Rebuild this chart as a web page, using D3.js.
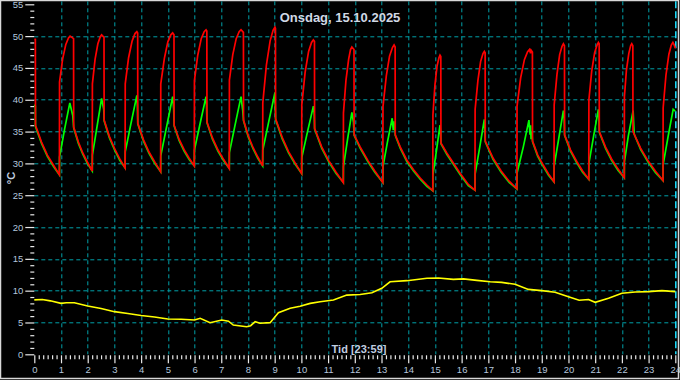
<!DOCTYPE html>
<html>
<head>
<meta charset="utf-8">
<script src="https://cdn.jsdelivr.net/npm/d3@7"></script>
<style>
  body { margin: 0; background: #000; }
  text { font-family: Arial, "Liberation Sans", sans-serif; }
</style>
</head>
<body>
<div class="chart"></div>
<script>
var svgWidth = 680;
var svgHeight = 380;

var margin = { top: 4, right: 5, bottom: 26, left: 34 };

var width = 641;
var height = 350;

// chart values
var titleText = "Onsdag, 15.10.2025";
var xLabel = "Tid [23:59]";
var yLabel = "°C";

var hourTicks = [0, 1, 2, 3, 4, 5, 6, 7, 8, 9, 10, 11, 12, 13, 14, 15, 16, 17, 18, 19, 20, 21, 22, 23, 24];
var tempTicks = [0, 5, 10, 15, 20, 25, 30, 35, 40, 45, 50, 55];

// red curve [hour, °C]
var redPts = [
  [0, 49.5], [0.04, 49.5], [0.045, 36.0], [0.27, 33.35], [0.49, 31.3], [0.72, 29.7],
  [0.94, 28.2], [0.945, 42.8], [1.06, 46.4], [1.18, 48.7], [1.28, 49.7], [1.34, 50.0], [1.47, 49.6], [1.475, 35.7], [1.65, 33.35], [1.82, 31.6], [2.0, 30.1],
  [2.17, 28.8], [2.175, 42.5], [2.275, 46.35], [2.38, 48.8], [2.47, 49.9], [2.52, 50.2], [2.61, 49.8], [2.615, 36.8], [2.81, 34.25], [3.01, 32.3], [3.2, 30.7],
  [3.4, 29.3], [3.405, 42.5], [3.53, 46.6], [3.66, 49.2], [3.77, 50.4], [3.84, 50.7], [3.87, 50.5], [3.875, 36.3], [4.09, 33.7], [4.3, 31.75], [4.52, 30.15],
  [4.73, 28.7], [4.735, 42.5], [4.87, 46.5], [5.0, 49.1], [5.11, 50.2], [5.18, 50.5], [5.23, 50.2], [5.235, 36.0], [5.42, 33.8], [5.61, 32.15], [5.8, 30.8],
  [5.99, 29.6], [5.995, 43.0], [6.12, 47.0], [6.25, 49.6], [6.36, 50.7], [6.43, 51.0], [6.46, 50.8], [6.465, 36.5], [6.67, 34.0], [6.88, 32.1], [7.09, 30.6],
  [7.3, 29.2], [7.305, 43.1], [7.43, 47.05], [7.56, 49.6], [7.67, 50.7], [7.74, 51.0], [7.83, 50.6], [7.835, 36.8], [8.01, 34.35], [8.19, 32.5], [8.37, 31.0],
  [8.55, 29.6], [8.555, 39.5], [8.69, 45.45], [8.83, 49.25], [8.94, 50.9], [9.01, 51.4], [9.03, 51.2], [9.035, 37.0], [9.28, 34.1], [9.52, 31.85], [9.77, 30.05],
  [10.01, 28.4], [10.015, 39.2], [10.14, 44.3], [10.27, 47.6], [10.38, 49.0], [10.45, 49.4], [10.49, 49.2], [10.495, 35.5], [10.76, 32.6], [11.03, 30.4], [11.3, 28.6],
  [11.57, 27.0], [11.575, 37.9], [11.67, 43.1], [11.77, 46.4], [11.84, 47.9], [11.89, 48.3], [11.97, 47.9], [11.975, 34.5], [12.2, 32.6], [12.5, 30.4], [12.75, 28.8],
  [13.05, 27.0], [13.055, 38.9], [13.18, 43.75], [13.3, 46.85], [13.41, 48.2], [13.47, 48.6], [13.51, 48.3], [13.515, 34.5], [13.7, 32.6], [13.95, 30.5], [14.2, 29.0], [14.45, 27.7], [14.7, 26.6],
  [14.92, 25.7], [14.925, 37.6], [15.0, 42.3], [15.08, 45.3], [15.15, 46.6], [15.19, 47.0], [15.22, 46.8], [15.225, 33.2], [15.45, 31.6], [15.95, 28.4], [16.25, 26.7],
  [16.5, 25.8], [16.505, 38.5], [16.61, 43.05], [16.71, 46.0], [16.8, 47.25], [16.85, 47.6], [16.88, 47.4], [16.885, 33.5], [17.18, 30.8], [17.48, 28.8], [17.78, 27.2],
  [18.07, 26.0], [18.075, 39.0], [18.21, 43.45], [18.35, 46.3], [18.47, 47.55], [18.54, 47.9], [18.58, 47.3], [18.6, 47.8], [18.65, 47.5], [18.655, 33.5], [18.85, 31.3], [19.06, 29.7], [19.26, 28.3],
  [19.46, 27.1], [19.465, 39.2], [19.57, 44.0], [19.67, 47.1], [19.76, 48.4], [19.81, 48.8], [19.85, 48.5], [19.855, 34.5], [20.08, 32.1], [20.31, 30.3], [20.53, 28.8],
  [20.76, 27.5], [20.765, 40.0], [20.87, 44.5], [20.98, 47.4], [21.07, 48.6], [21.12, 49.0], [21.15, 48.8], [21.155, 35.0], [21.39, 32.55], [21.62, 30.65], [21.86, 29.1],
  [22.09, 27.75], [22.095, 40.5], [22.17, 44.65], [22.26, 47.3], [22.33, 48.5], [22.37, 48.8], [22.41, 48.5], [22.415, 35.0], [22.7, 32.4], [22.98, 30.4], [23.26, 28.75],
  [23.54, 27.3], [23.545, 38.7], [23.65, 43.85], [23.76, 47.15], [23.85, 48.6], [23.91, 49.0], [23.95, 48.7], [24.0, 48.1]
];

// green curve [hour, °C]
var greenPts = [
  [0, 39.2], [0.04, 39.0], [0.045, 35.8], [0.27, 33.15], [0.49, 31.1], [0.72, 29.5],
  [0.94, 28.2], [0.945, 31.0], [1.14, 35.5], [1.33, 39.5], [1.44, 37.5], [1.475, 35.6], [1.65, 33.15], [1.82, 31.4], [2.0, 29.9],
  [2.17, 28.8], [2.175, 31.3], [2.35, 35.8], [2.52, 40.2], [2.6, 38.5], [2.615, 36.7], [2.81, 34.05], [3.01, 32.1], [3.2, 30.5],
  [3.4, 29.3], [3.405, 31.8], [3.62, 36.3], [3.84, 40.7], [3.86, 39.0], [3.875, 36.2], [4.09, 33.5], [4.3, 31.55], [4.52, 29.95],
  [4.73, 28.7], [4.735, 31.2], [4.96, 35.9], [5.18, 40.5], [5.22, 38.5], [5.235, 35.9], [5.42, 33.6], [5.61, 31.95], [5.8, 30.6],
  [5.99, 29.6], [5.995, 32.1], [6.21, 36.3], [6.43, 40.5], [6.45, 39.0], [6.465, 36.4], [6.67, 33.8], [6.88, 31.9], [7.09, 30.4],
  [7.3, 29.2], [7.305, 31.7], [7.52, 36.1], [7.74, 40.5], [7.8, 38.5], [7.835, 36.7], [8.01, 34.15], [8.19, 32.3], [8.37, 30.8],
  [8.55, 29.6], [8.555, 32.1], [8.78, 36.6], [9.01, 41.1], [9.02, 39.5], [9.035, 36.9], [9.28, 33.9], [9.52, 31.65], [9.77, 29.85],
  [10.01, 28.4], [10.015, 30.9], [10.23, 35.0], [10.45, 39.0], [10.48, 37.8], [10.495, 35.4], [10.76, 32.4], [11.03, 30.2], [11.3, 28.4],
  [11.57, 27.0], [11.575, 29.5], [11.73, 33.8], [11.89, 38.0], [11.95, 36.5], [11.975, 34.4], [12.2, 32.4], [12.5, 30.2], [12.75, 28.6],
  [13.05, 27.0], [13.055, 29.5], [13.22, 33.3], [13.4, 37.1], [13.44, 35.2], [13.46, 36.6], [13.5, 35.5], [13.515, 34.4], [13.7, 32.4], [13.95, 30.3], [14.2, 28.8], [14.45, 27.5], [14.7, 26.4],
  [14.92, 25.7], [14.925, 28.2], [15.06, 32.1], [15.19, 36.0], [15.21, 35.0], [15.225, 33.1], [15.45, 31.4], [15.95, 28.2], [16.25, 26.5],
  [16.5, 25.8], [16.505, 28.3], [16.68, 32.6], [16.85, 36.9], [16.87, 35.5], [16.885, 33.4], [17.18, 30.6], [17.48, 28.6], [17.78, 27.0],
  [18.07, 26.0], [18.075, 28.5], [18.31, 32.6], [18.52, 36.8], [18.56, 34.5], [18.58, 36.0], [18.6, 33.8], [18.63, 35.0], [18.655, 33.4], [18.85, 31.1], [19.06, 29.5], [19.26, 28.1],
  [19.46, 27.1], [19.465, 29.6], [19.64, 34.0], [19.81, 38.3], [19.84, 37.0], [19.855, 34.4], [20.08, 31.9], [20.31, 30.1], [20.53, 28.6],
  [20.76, 27.5], [20.765, 30.0], [20.94, 34.25], [21.12, 38.5], [21.14, 37.2], [21.155, 34.9], [21.39, 32.35], [21.62, 30.45], [21.86, 28.9],
  [22.09, 27.75], [22.095, 30.25], [22.24, 34.3], [22.42, 38.3], [22.44, 36.5], [22.46, 34.6], [22.7, 32.2], [22.98, 30.2], [23.26, 28.55],
  [23.54, 27.3], [23.545, 29.8], [23.73, 34.2], [23.92, 38.5], [24.0, 38.2]
];

// outdoor temperature, yellow [hour, °C]
var outdoorPts = [
  [0, 8.55], [0.3, 8.6], [0.6, 8.4], [1.0, 8.0], [1.2, 8.1], [1.5, 8.1], [2.0, 7.6], [2.5, 7.2], [3.0, 6.7], [3.5, 6.4],
  [4.0, 6.1], [4.5, 5.85], [5.0, 5.55], [5.5, 5.5], [6.0, 5.4], [6.21, 5.66], [6.58, 4.97], [7.02, 5.39], [7.27, 5.2], [7.45, 4.6],
  [7.95, 4.34], [8.1, 4.5], [8.27, 5.13], [8.45, 4.87], [8.83, 4.97], [9.14, 6.54], [9.58, 7.23], [9.95, 7.54], [10.33, 8.0], [10.7, 8.27],
  [11.2, 8.53], [11.7, 9.3], [12.2, 9.4], [12.64, 9.68], [13.01, 10.37], [13.32, 11.4], [13.95, 11.57], [14.7, 11.94], [15.13, 12.0], [15.69, 11.78],
  [16.07, 11.85], [16.57, 11.62], [17.07, 11.4], [17.5, 11.3], [18.0, 11.0], [18.5, 10.2], [19.0, 10.0], [19.5, 9.74], [20.0, 9.05], [20.4, 8.5],
  [20.75, 8.6], [21.0, 8.17], [21.5, 8.8], [22.0, 9.6], [22.5, 9.8], [23.0, 9.85], [23.5, 10.0], [24.0, 9.85]
];

var svg = d3
  .select(".chart")
  .append("svg")
  .attr("width", svgWidth)
  .attr("height", svgHeight)
  .style("display", "block")
  .style("background", "#000");

// outer frame
svg.append("rect")
  .attr("x", 0.5)
  .attr("y", 0.5)
  .attr("width", svgWidth - 2)
  .attr("height", svgHeight - 2)
  .attr("fill", "none")
  .attr("stroke", "#d8d8d8")
  .attr("stroke-width", 1.5);

var chartGroup = svg.append("g")
  .attr("transform", `translate(${margin.left + 0.3}, ${margin.top + 0.3})`);

var xScale = d3.scaleLinear().domain([0, 24]).range([0, width]);
var yScale = d3.scaleLinear().domain([0, 55]).range([height, 0]);

// dashed grid
chartGroup.append("g")
  .selectAll("line")
  .data(tempTicks.filter(d => d > 0 && d < 55))
  .enter()
  .append("line")
  .attr("x1", 0)
  .attr("x2", width)
  .attr("y1", d => Math.round(yScale(d)) + 0.5)
  .attr("y2", d => Math.round(yScale(d)) + 0.5)
  .attr("stroke", "#00a0a8")
  .attr("stroke-dasharray", "4,3");

chartGroup.append("g")
  .selectAll("line")
  .data(hourTicks.filter(d => d > 0 && d < 24))
  .enter()
  .append("line")
  .attr("x1", d => Math.round(xScale(d)) + 0.5)
  .attr("x2", d => Math.round(xScale(d)) + 0.5)
  .attr("y1", -3)
  .attr("y2", height)
  .attr("stroke", "#00a0a8")
  .attr("stroke-dasharray", "4,3");

// current time marker at the right edge
chartGroup.append("line")
  .attr("x1", Math.round(xScale(24)) + 0.5)
  .attr("x2", Math.round(xScale(24)) + 0.5)
  .attr("y1", -3)
  .attr("y2", height)
  .attr("stroke", "#20e0ff")
  .attr("stroke-width", 1.5)
  .attr("stroke-dasharray", "7,3");

// y axis: major and minor ticks
var yMajor = chartGroup.append("g")
  .call(d3.axisLeft(yScale).tickValues(tempTicks).tickSize(9).tickPadding(2));
var yMinor = chartGroup.append("g")
  .call(d3.axisLeft(yScale).tickValues(d3.range(0, 56, 1).filter(d => d % 5)).tickSize(4).tickFormat(""));

// x axis: hours and 10 minute steps
var xMajor = chartGroup.append("g")
  .attr("transform", `translate(0, ${height + 1})`)
  .call(d3.axisBottom(xScale).tickValues(hourTicks).tickSize(8).tickPadding(3));
var xMinor = chartGroup.append("g")
  .attr("transform", `translate(0, ${height + 1})`)
  .call(d3.axisBottom(xScale).tickValues(d3.range(0, 144).filter(d => d % 6).map(d => d / 6)).tickSize(4).tickFormat(""));

[yMajor, yMinor, xMajor, xMinor].forEach(function(ax) {
  ax.select(".domain").remove();
  ax.selectAll("line").attr("stroke", "#e8e8e8").attr("stroke-width", 1.2);
  ax.selectAll("text")
    .attr("fill", "#b4c6dc")
    .style("font-size", "9.5px");
});

// curves
var line = d3.line()
  .x(d => xScale(d[0]))
  .y(d => yScale(d[1]));

chartGroup.append("path")
  .datum(outdoorPts)
  .attr("d", line)
  .attr("fill", "none")
  .attr("stroke", "#ffff00")
  .attr("stroke-width", 1.6);

chartGroup.append("path")
  .datum(greenPts)
  .attr("d", line)
  .attr("fill", "none")
  .attr("stroke", "#00ff00")
  .attr("stroke-width", 1.7);

chartGroup.append("path")
  .datum(redPts)
  .attr("d", line)
  .attr("fill", "none")
  .attr("stroke", "#ff0000")
  .attr("stroke-width", 1.7);

// texts
svg.append("text")
  .attr("x", 340)
  .attr("y", 22)
  .attr("text-anchor", "middle")
  .attr("fill", "#d0d8e4")
  .style("font-size", "13px")
  .style("font-weight", "bold")
  .text(titleText);

svg.append("text")
  .attr("x", 359)
  .attr("y", 353)
  .attr("text-anchor", "middle")
  .attr("fill", "#c0cee0")
  .style("font-size", "11px")
  .style("font-weight", "bold")
  .text(xLabel);

svg.append("text")
  .attr("transform", "translate(15, 178) rotate(-90)")
  .attr("text-anchor", "middle")
  .attr("fill", "#c0cee0")
  .style("font-size", "11px")
  .style("font-weight", "bold")
  .text(yLabel);
</script>
</body>
</html>
